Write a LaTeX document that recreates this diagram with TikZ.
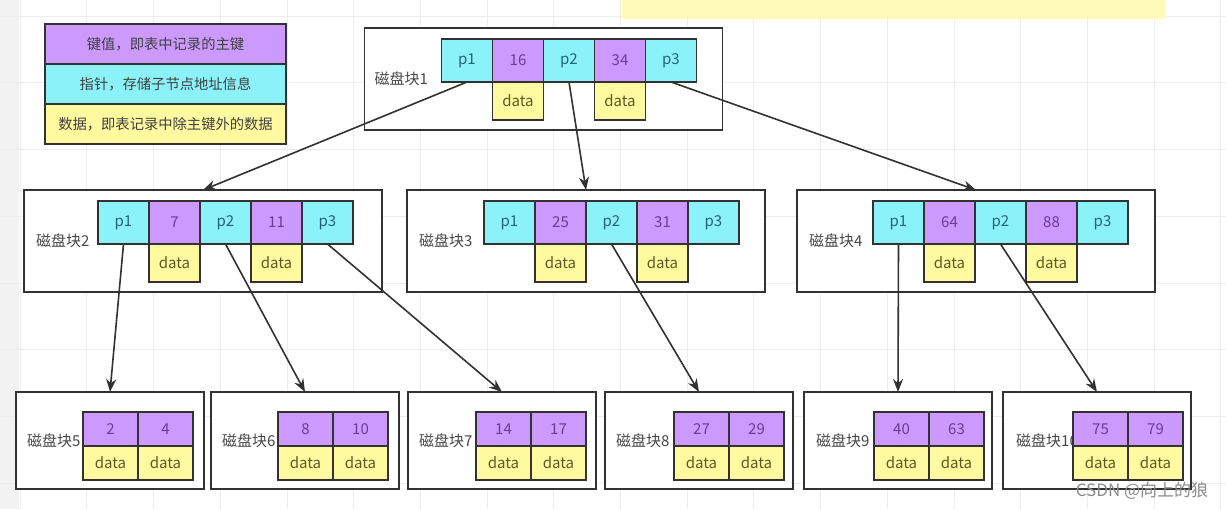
\documentclass[tikz,border=0pt]{standalone}
\usepackage{fontspec}
\setmainfont{Noto Sans CJK SC}
\usetikzlibrary{arrows.meta, positioning}
\definecolor{keypurple}{RGB}{204, 153, 255}
\definecolor{ptrcyan}{RGB}{140, 242, 250}
\definecolor{datayellow}{RGB}{255, 250, 160}
\definecolor{keytext}{RGB}{105, 60, 150}
\definecolor{ptrtext}{RGB}{35, 100, 120}
\definecolor{datatext}{RGB}{95, 90, 35}
\definecolor{edgegray}{RGB}{50, 50, 50}
\definecolor{gridgray}{RGB}{237, 237, 237}
\definecolor{notebar}{RGB}{255, 250, 185}

\begin{document}
\begin{tikzpicture}[
    x=1pt, y=-1pt,
    node distance=0pt,
    every node/.style={font=\fontsize{15pt}{17pt}\selectfont},
    cell/.style={
        draw=edgegray, line width=1.6pt, inner sep=0pt, outer sep=0pt,
        minimum width=51pt
    },
    keycell/.style={cell, fill=keypurple, text=keytext, minimum height=43pt},
    ptrcell/.style={cell, fill=ptrcyan, text=ptrtext, minimum height=43pt},
    datacell/.style={cell, fill=datayellow, text=datatext, minimum height=38pt},
    leafkey/.style={keycell, minimum width=55pt, minimum height=34pt},
    leafdata/.style={datacell, minimum width=55pt, minimum height=34pt},
    diskbox/.style={
        draw=edgegray, line width=1.6pt, fill=white, inner sep=0pt, outer sep=0pt,
        minimum width=358pt, minimum height=102pt
    },
    leafbox/.style={diskbox, minimum width=188pt, minimum height=97pt},
    disklabel/.style={inner sep=0pt, text=black!72},
    legendrow/.style={
        draw=edgegray, line width=1.6pt, inner sep=0pt, outer sep=0pt, text=black!75,
        minimum width=241pt, minimum height=40pt, font=\fontsize{14.3pt}{16pt}\selectfont
    },
    arrow/.style={-{Stealth[length=13pt, width=10pt]}, draw=edgegray, line width=1.6pt}
]

% CANVAS
\fill[white] (0,0) rectangle (1226,509);
\useasboundingbox (0,0) rectangle (1226,509);
\fill[black!5] (0,0) rectangle (19,509);
\begin{scope}[shift={(20,16)}]
    \draw[gridgray, line width=0.6pt, step=66.7pt] (-20pt,-493pt) grid (1206pt,16pt);
\end{scope}
\node[fill=notebar, inner sep=0pt, minimum width=543pt, minimum height=19pt, anchor=north west] (note) at (622,0) {};

% LEGEND
\node[legendrow, fill=keypurple] (legkey) at (165.5,44) {键值，即表中记录的主键};
\node[legendrow, fill=ptrcyan, below=of legkey] (legptr) {指针，存储子节点地址信息};
\node[legendrow, fill=datayellow, below=of legptr] (legdata) {数据，即表记录中除主键外的数据};

% DISK BLOCK 1 (ROOT)
\node[diskbox] (disk1) at (543.5,79) {};
\node[disklabel, right=10pt of disk1.west] (lab1) {磁盘块1};
\node[ptrcell, below right=11pt and 77pt of disk1.north west] (blk1p1) {p1};
\node[keycell, right=of blk1p1] (blk1k16) {16};
\node[ptrcell, right=of blk1k16] (blk1p2) {p2};
\node[keycell, right=of blk1p2] (blk1k34) {34};
\node[ptrcell, right=of blk1k34] (blk1p3) {p3};
\node[datacell, below=of blk1k16] (blk1d16) {data};
\node[datacell, below=of blk1k34] (blk1d34) {data};

% DISK BLOCK 2
\node[diskbox] (disk2) at (203,241) {};
\node[disklabel, right=12pt of disk2.west] (lab2) {磁盘块2};
\node[ptrcell, below right=11pt and 74pt of disk2.north west] (blk2p1) {p1};
\node[keycell, right=of blk2p1] (blk2k7) {7};
\node[ptrcell, right=of blk2k7] (blk2p2) {p2};
\node[keycell, right=of blk2p2] (blk2k11) {11};
\node[ptrcell, right=of blk2k11] (blk2p3) {p3};
\node[datacell, below=of blk2k7] (blk2d7) {data};
\node[datacell, below=of blk2k11] (blk2d11) {data};

% DISK BLOCK 3
\node[diskbox] (disk3) at (586,241) {};
\node[disklabel, right=12pt of disk3.west] (lab3) {磁盘块3};
\node[ptrcell, below right=11pt and 77pt of disk3.north west] (blk3p1) {p1};
\node[keycell, right=of blk3p1] (blk3k25) {25};
\node[ptrcell, right=of blk3k25] (blk3p2) {p2};
\node[keycell, right=of blk3p2] (blk3k31) {31};
\node[ptrcell, right=of blk3k31] (blk3p3) {p3};
\node[datacell, below=of blk3k25] (blk3d25) {data};
\node[datacell, below=of blk3k31] (blk3d31) {data};

% DISK BLOCK 4
\node[diskbox] (disk4) at (976,241) {};
\node[disklabel, right=12pt of disk4.west] (lab4) {磁盘块4};
\node[ptrcell, below right=11pt and 76pt of disk4.north west] (blk4p1) {p1};
\node[keycell, right=of blk4p1] (blk4k64) {64};
\node[ptrcell, right=of blk4k64] (blk4p2) {p2};
\node[keycell, right=of blk4p2] (blk4k88) {88};
\node[ptrcell, right=of blk4k88] (blk4p3) {p3};
\node[datacell, below=of blk4k64] (blk4d64) {data};
\node[datacell, below=of blk4k88] (blk4d88) {data};

% LEAF BLOCKS 5-10
\node[leafbox] (leaf5) at (110,440.5) {};
\node[disklabel, right=11pt of leaf5.west] (lab5) {磁盘块5};
\node[leafkey, below right=20pt and 67pt of leaf5.north west] (blk5k2) {2};
\node[leafkey, right=of blk5k2] (blk5k4) {4};
\node[leafdata, below=of blk5k2] (blk5d2) {data};
\node[leafdata, below=of blk5k4] (blk5d4) {data};

\node[leafbox] (leaf6) at (305,440.5) {};
\node[disklabel, right=11pt of leaf6.west] (lab6) {磁盘块6};
\node[leafkey, below right=20pt and 67pt of leaf6.north west] (blk6k8) {8};
\node[leafkey, right=of blk6k8] (blk6k10) {10};
\node[leafdata, below=of blk6k8] (blk6d8) {data};
\node[leafdata, below=of blk6k10] (blk6d10) {data};

\node[leafbox] (leaf7) at (502,440.5) {};
\node[disklabel, right=11pt of leaf7.west] (lab7) {磁盘块7};
\node[leafkey, below right=20pt and 68pt of leaf7.north west] (blk7k14) {14};
\node[leafkey, right=of blk7k14] (blk7k17) {17};
\node[leafdata, below=of blk7k14] (blk7d14) {data};
\node[leafdata, below=of blk7k17] (blk7d17) {data};

\node[leafbox] (leaf8) at (699,440.5) {};
\node[disklabel, right=11pt of leaf8.west] (lab8) {磁盘块8};
\node[leafkey, below right=20pt and 69pt of leaf8.north west] (blk8k27) {27};
\node[leafkey, right=of blk8k27] (blk8k29) {29};
\node[leafdata, below=of blk8k27] (blk8d27) {data};
\node[leafdata, below=of blk8k29] (blk8d29) {data};

\node[leafbox] (leaf9) at (898,440.5) {};
\node[disklabel, right=12pt of leaf9.west] (lab9) {磁盘块9};
\node[leafkey, below right=20pt and 70pt of leaf9.north west] (blk9k40) {40};
\node[leafkey, right=of blk9k40] (blk9k63) {63};
\node[leafdata, below=of blk9k40] (blk9d40) {data};
\node[leafdata, below=of blk9k63] (blk9d63) {data};

\node[leafbox] (leaf10) at (1097,440.5) {};
\node[disklabel, right=13pt of leaf10.west] (lab10) {磁盘块10};
\node[leafkey, below right=20pt and 70pt of leaf10.north west] (blk10k75) {75};
\node[leafkey, right=of blk10k75] (blk10k79) {79};
\node[leafdata, below=of blk10k75] (blk10d75) {data};
\node[leafdata, below=of blk10k79] (blk10d79) {data};

% ARROWS: POINTERS -> CHILD BLOCKS
\draw[arrow] (blk1p1.south) -- (disk2.north);
\draw[arrow] (blk1p2.south) -- (disk3.north);
\draw[arrow] (blk1p3.south) -- (disk4.north);
\draw[arrow] (blk2p1.south) -- (leaf5.north);
\draw[arrow] (blk2p2.south) -- (leaf6.north);
\draw[arrow] (blk2p3.south) -- (leaf7.north);
\draw[arrow] (blk3p2.south) -- (leaf8.north);
\draw[arrow] (blk4p1.south) -- (leaf9.north);
\draw[arrow] (blk4p2.south) -- (leaf10.north);

% WATERMARK
\node[text=black!45, font=\fontsize{17pt}{19pt}\selectfont] (mark) at (1142,491) {CSDN @向上的狼};

\end{tikzpicture}
\end{document}
